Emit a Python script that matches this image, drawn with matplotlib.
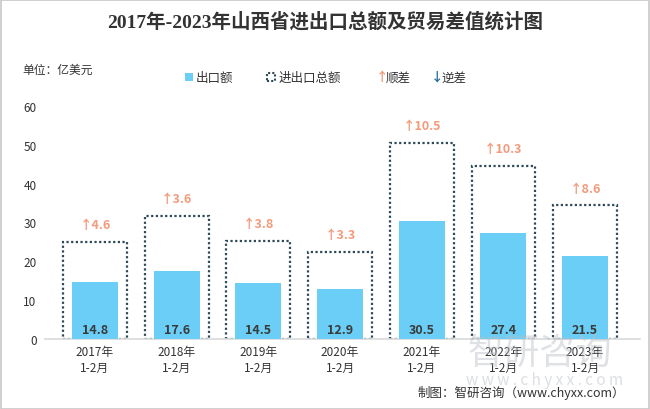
import matplotlib
matplotlib.use("Agg")
import matplotlib.pyplot as plt
from matplotlib.patches import Rectangle

plt.rcParams['font.family'] = ['Noto Sans CJK SC', 'DejaVu Sans']

categories = ["2017年\n1-2月", "2018年\n1-2月", "2019年\n1-2月", "2020年\n1-2月",
              "2021年\n1-2月", "2022年\n1-2月", "2023年\n1-2月"]
exports = [14.8, 17.6, 14.5, 12.9, 30.5, 27.4, 21.5]
surplus = [4.6, 3.6, 3.8, 3.3, 10.5, 10.3, 8.6]
totals = [25.0, 31.6, 25.2, 22.5, 50.5, 44.5, 34.4]
yticks = [0, 10, 20, 30, 40, 50, 60]

bar_color = "#6ACEF6"
box_color = "#2E4A58"
up_color = "#F39A7B"
down_color = "#1F6F9A"

fig = plt.figure(figsize=(6.5, 4.1), dpi=100)
ax = fig.add_axes([45/650, 70/410, 595/650, 233/410])

x = list(range(len(categories)))
ax.bar(x, totals, width=0.78, facecolor="none", edgecolor=box_color,
       linestyle=(0, (1, 1.1)), linewidth=1.6, zorder=2)
ax.bar(x, exports, width=0.56, color=bar_color, zorder=3)

for i in x:
    ax.text(i, 0.9, f"{exports[i]:.1f}", ha="center", va="bottom",
            fontsize=9, fontweight="bold", color="#3A3A3A", zorder=4)
    ax.text(i, totals[i] + 2.8, f"↑{surplus[i]:.1f}", ha="center", va="bottom",
            fontsize=9, fontweight="bold", color=up_color, zorder=4)

ax.set_xlim(-0.612, 6.673)
ax.set_ylim(0, 60)
ax.set_yticks(yticks)
ax.set_xticks(x)
ax.set_xticklabels(categories, fontsize=8.5, color="#333333", linespacing=1.3)
ax.tick_params(axis="y", length=0, labelsize=8.5, labelcolor="#333333", pad=6)
ax.tick_params(axis="x", length=0, pad=4)
for s in ["top", "right", "left"]:
    ax.spines[s].set_visible(False)
ax.spines["bottom"].set_color("#D9D9D9")
ax.spines["bottom"].set_linewidth(1.2)

# title
fig.text(0.5, 1 - 22/410, "2017年-2023年山西省进出口总额及贸易差值统计图",
         ha="center", va="center", fontsize=14, fontweight="bold", color="#333333",
         family=['Liberation Serif', 'Noto Sans CJK SC'])
fig.text(22/650, 1 - 70/410, "单位：亿美元", ha="left", va="center",
         fontsize=8.5, color="#333333")

# legend
ly = 1 - 78/410
fig.patches.append(Rectangle((185/650, ly - 4/410), 8/650, 8/410,
                             transform=fig.transFigure, facecolor=bar_color,
                             edgecolor="none"))
fig.text(196/650, ly, "出口额", ha="left", va="center", fontsize=9, color="#333333")
fig.patches.append(Rectangle((267/650, ly - 4/410), 8/650, 8/410,
                             transform=fig.transFigure, facecolor="none",
                             edgecolor=box_color, linestyle=(0, (1, 1)), linewidth=1.5))
fig.text(279/650, ly, "进出口总额", ha="left", va="center", fontsize=9, color="#333333")
fig.text(376/650, ly, "↑", ha="left", va="center", fontsize=9, color=up_color, fontweight="bold")
fig.text(386/650, ly, "顺差", ha="left", va="center", fontsize=9, color="#333333")
fig.text(431/650, ly, "↓", ha="left", va="center", fontsize=9, color=down_color, fontweight="bold")
fig.text(441/650, ly, "逆差", ha="left", va="center", fontsize=9, color="#333333")

# watermark
fig.text(540/650, 1 - 354/410, "智研咨询", ha="center", va="center",
         fontsize=26, color="#B8BEC6", alpha=0.45, zorder=0)
fig.text(545/650, 1 - 381/410, "w w w . c h y x x . c o m", ha="center", va="center",
         fontsize=11, color="#B8BEC6", alpha=0.5, zorder=0)

# source
fig.text(625/650, 1 - 393/410, "制图：智研咨询（www.chyxx.com）", ha="right", va="center",
         fontsize=9, color="#333333")

# figure border
fig.patches.append(Rectangle((0.5/650, 0.5/410), 648.5/650, 408.5/410,
                             transform=fig.transFigure, facecolor="none",
                             edgecolor="#C8C8C8", linewidth=1.2))

fig.savefig("out.png", dpi=100)
